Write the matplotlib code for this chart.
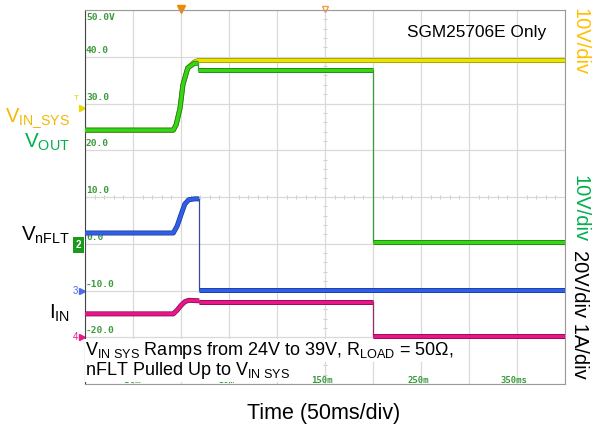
import numpy as np
import matplotlib.pyplot as plt

plt.rcParams['font.family'] = ['Liberation Sans', 'DejaVu Sans']
plt.rcParams['mathtext.fontset'] = 'custom'
plt.rcParams['mathtext.rm'] = 'Liberation Sans'
plt.rcParams['mathtext.it'] = 'Liberation Sans:italic'

# scope traces, screen units (10 units per division), time in ms
t_vin = [-100, -8, -5, -1, 2, 7, 14, 18, 400]
v_vin = [24.3, 24.3, 25.5, 29.0, 34.0, 37.6, 38.9, 39.2, 39.2]

t_vout = [-100, -8, -5, -1, 2, 7, 14, 18, 18, 200, 200, 400]
v_vout = [24.3, 24.3, 25.5, 29.0, 34.0, 37.6, 38.6, 38.6, 37.2, 37.2, 0.4, 0.4]

t_nflt = [-100, -8, -4, 0, 4, 8, 14, 19, 19, 400]
v_nflt = [2.3, 2.3, 3.8, 6.2, 8.5, 9.4, 9.6, 9.6, -9.8, -9.8]

t_iin = [-100, -8, -4, 0, 4, 8, 19, 19, 200, 200, 400]
v_iin = [-15.0, -15.0, -14.2, -13.2, -12.4, -12.1, -12.2, -12.5, -12.5, -19.8, -19.8]

grid_labels = ['50.0V', '40.0', '30.0', '20.0', '10.0', '0.0', '-10.0', '-20.0']
grid_levels = [50, 40, 30, 20, 10, 0, -10, -20]
time_labels = ['-50m', '50m', '150m', '250m', '350ms']
time_pos = [-50, 50, 150, 250, 350]

note_lines = [r'$\mathrm{V_{IN\ SYS}}$ Ramps from 24V to 39V, R$_\mathrm{LOAD}$ = 50Ω,',
              r'nFLT Pulled Up to $\mathrm{V_{IN\ SYS}}$']
note_y = [-22.9, -27.1]

LABEL_GREEN = '#3c9a3c'


def draw_trace(ax, t, v, color, edge, drop):
    """Thick trace for the flat/ramp parts, thin line for the vertical steps."""
    t = np.asarray(t, float)
    v = np.asarray(v, float)

    def thick(a, b):
        ax.plot(t[a:b], v[a:b], color=edge, lw=3.6, solid_capstyle='butt', zorder=3)
        ax.plot(t[a:b], v[a:b], color=color, lw=2.5, solid_capstyle='butt', zorder=3)

    start = 0
    for i in range(len(t) - 1):
        if t[i + 1] == t[i]:
            thick(start, i + 1)
            ax.plot(t[i:i + 2], v[i:i + 2], color=drop, lw=0.9, zorder=3)
            start = i + 1
    thick(start, len(t))


fig = plt.figure(figsize=(5.95, 4.33), dpi=100)
ax = fig.add_axes([85 / 595, 1 - 384 / 433, 480 / 595, 374 / 433])
ax.set_xlim(-100, 400)
ax.set_ylim(-30, 50)
ax.set_xticks(np.arange(-100, 401, 50))
ax.set_yticks(np.arange(-30, 51, 10))
ax.grid(True, color='#d9d9d9', lw=0.9)
ax.tick_params(length=0, labelbottom=False, labelleft=False)
for pos in ax.spines:
    ax.spines[pos].set_color('#9a9a9a')
ax.spines['left'].set_color('#444444')

# minor ticks along the centre lines
mx = np.arange(-100, 401, 10)
ax.plot(mx, np.full_like(mx, 10.0), ls='none', marker='|', ms=3, mew=0.7, color='#c8c8c8', zorder=1)
my = np.arange(-30, 51, 2)
ax.plot(np.full_like(my, 150.0), my, ls='none', marker='_', ms=3, mew=0.7, color='#c8c8c8', zorder=1)

draw_trace(ax, t_vin, v_vin, '#ece400', '#9a9400', '#9a9400')
draw_trace(ax, t_vout, v_vout, '#36d616', '#1f7a10', '#3a9a3a')
draw_trace(ax, t_nflt, v_nflt, '#2f5fe8', '#1c3a9a', '#3a4a9a')
draw_trace(ax, t_iin, v_iin, '#e8168a', '#8a0a50', '#9a2a6a')

# grid value labels
for lab, lv in zip(grid_labels, grid_levels):
    y = lv - 1.7 if lv == 50 else lv + 0.4
    ax.text(-99, y, lab, color=LABEL_GREEN, fontsize=6.8, family='DejaVu Sans Mono',
            fontweight='bold', va='bottom' if lv != 50 else 'center', zorder=2)
for lab, tp in zip(time_labels, time_pos):
    ax.text(tp - 3, -29.2, lab, color=LABEL_GREEN, fontsize=6.5, family='DejaVu Sans Mono',
            fontweight='bold', ha='center', va='center', zorder=2)

# annotation text on white backgrounds; first line drawn last so its
# subscripts stay on top of the second line's background
box = dict(boxstyle='square,pad=0.05', fc='white', ec='none')
for line, y, z in zip(note_lines, note_y, [6, 5]):
    ax.text(-99.5, y, line, fontsize=13, va='center', ha='left', zorder=z, bbox=box)

ax.text(0.96, 0.96, 'SGM25706E Only', transform=ax.transAxes, fontsize=12.4,
        ha='right', va='top', zorder=5)

# channel markers and trigger indicators
yt = ax.get_yaxis_transform()
xt = ax.get_xaxis_transform()
ax.plot([-0.006], [29.0], marker='>', ms=5, color='#e8d800', transform=yt, clip_on=False)
ax.text(-0.018, 31.0, 'T', color='#e8d800', fontsize=6, transform=yt, ha='center', va='center')
ax.text(-0.013, -0.2, '2', color='white', fontsize=7, fontweight='bold', transform=yt,
        ha='center', va='center', bbox=dict(boxstyle='square,pad=0.3', fc='#1a9a1a', ec='none'))
ax.plot([-0.006], [-10], marker='>', ms=4, color='#4a6ae8', transform=yt, clip_on=False)
ax.text(-0.02, -10, '3', color='#4a6ae8', fontsize=7, transform=yt, ha='center', va='center')
ax.plot([-0.006], [-20], marker='>', ms=4, color='#e8168a', transform=yt, clip_on=False)
ax.text(-0.02, -20, '4', color='#e8168a', fontsize=7, transform=yt, ha='center', va='center')
ax.plot([0], [1.003], marker='v', ms=6, color='#f08a00', transform=xt, clip_on=False)
ax.plot([150], [1.003], marker='v', ms=5, mfc='none', mec='#f0a040', transform=xt, clip_on=False)

# signal names on the left
fig.text(70 / 595, 1 - 118 / 433, r'$\mathrm{V_{IN\_SYS}}$', color='#f5b800', fontsize=14.5,
         ha='right', va='center')
fig.text(70 / 595, 1 - 142 / 433, r'$\mathrm{V_{OUT}}$', color='#00b050', fontsize=14.8,
         ha='right', va='center')
fig.text(70 / 595, 1 - 235 / 433, r'$\mathrm{V_{nFLT}}$', color='black', fontsize=14.8,
         ha='right', va='center')
fig.text(70 / 595, 1 - 313 / 433, r'$\mathrm{I_{IN}}$', color='black', fontsize=14.8,
         ha='right', va='center')

# scale labels on the right
fig.text(580 / 595, 1 - 8 / 433, '10V/div', color='#ffc000', fontsize=14.5,
         rotation=270, ha='center', va='top')
fig.text(580 / 595, 1 - 175 / 433, '10V/div', color='#00b050', fontsize=14.5,
         rotation=270, ha='center', va='top')
fig.text(580 / 595, 1 - 250 / 433, '20V/div 1A/div', color='black', fontsize=14.5,
         rotation=270, ha='center', va='top')

fig.text(324 / 595, 1 - 413 / 433, 'Time (50ms/div)', fontsize=15.5, ha='center', va='center')

fig.savefig('out.png', dpi=100)
